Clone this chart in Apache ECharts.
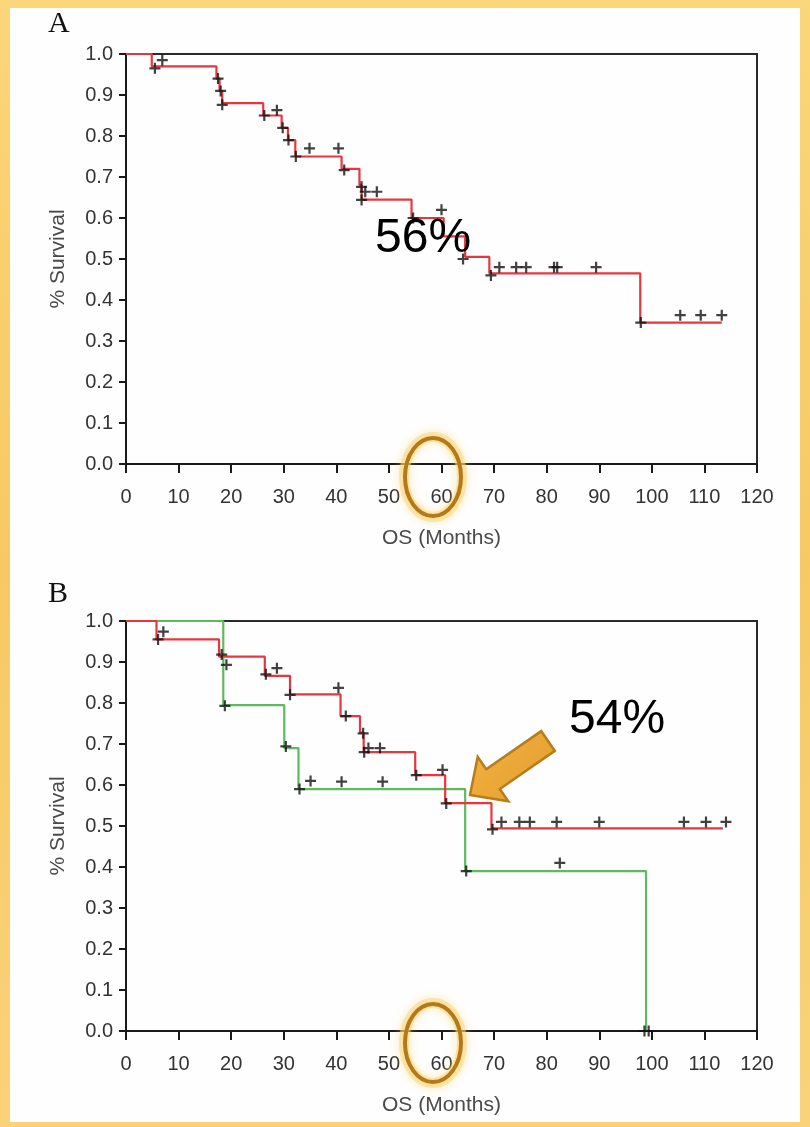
<!DOCTYPE html>
<html>
<head>
<meta charset="utf-8">
<script src="https://cdn.jsdelivr.net/npm/echarts@6/dist/echarts.min.js"></script>
<style>
  html, body { margin: 0; padding: 0; }
  body {
    width: 810px; height: 1127px; position: relative; overflow: hidden;
    background: linear-gradient(180deg, #fbd67a 0%, #f6c964 50%, #f9d27a 100%);
  }
  #panel {
    position: absolute; left: 10px; top: 8px; width: 790px; height: 1114px;
    background: #fefefe;
  }
  #chart { position: absolute; left: 0; top: 0; width: 810px; height: 1127px; }
</style>
</head>
<body>
<div id="panel"></div>
<div id="chart"></div>
<script>
// Overall survival, panel A: whole cohort (Kaplan-Meier step curve)
const aTimes = [0, 4.9, 17.2, 17.8, 18.3, 26.1, 29.6, 30.8, 32.2, 41.0, 44.4, 44.8, 54.3, 60.4, 64.5, 69.1, 97.8, 113.3];
const aSurv  = [1.0, 0.97, 0.94, 0.91, 0.88, 0.85, 0.82, 0.79, 0.75, 0.72, 0.68, 0.645, 0.60, 0.555, 0.505, 0.465, 0.345, 0.345];
// Censored observations on curve A: [months, survival]
const aCensored = [
  [5.5, 0.965], [6.9, 0.985], [17.5, 0.94], [18.0, 0.91], [18.3, 0.876], [26.3, 0.85], [28.7, 0.863],
  [29.8, 0.82], [30.9, 0.79], [32.3, 0.75], [34.9, 0.77], [40.4, 0.77], [41.5, 0.717], [44.8, 0.676],
  [44.8, 0.644], [45.5, 0.664], [47.7, 0.664], [54.6, 0.60], [60.0, 0.62], [64.1, 0.50], [69.4, 0.46],
  [71.0, 0.48], [74.2, 0.48], [76.1, 0.48], [81.4, 0.48], [82.0, 0.48], [89.4, 0.48], [97.9, 0.345],
  [105.4, 0.363], [109.3, 0.363], [113.3, 0.363]
];

// Panel B: two groups (red and green curves)
const bRedTimes = [0, 5.8, 17.7, 26.4, 31.2, 40.8, 44.5, 45.2, 55.0, 60.7, 69.5, 113.5];
const bRedSurv  = [1.0, 0.955, 0.913, 0.866, 0.821, 0.768, 0.728, 0.68, 0.624, 0.556, 0.494, 0.494];
const bRedCensored = [
  [6.1, 0.955], [7.1, 0.974], [18.2, 0.918], [19.1, 0.893], [26.6, 0.87], [28.7, 0.885], [31.2, 0.82],
  [40.4, 0.837], [41.8, 0.768], [45.1, 0.726], [45.3, 0.68], [46.1, 0.69], [48.3, 0.69], [55.2, 0.624],
  [60.2, 0.637], [60.9, 0.555], [69.7, 0.492], [71.4, 0.51], [74.8, 0.51], [76.8, 0.51], [81.9, 0.51],
  [90.0, 0.51], [106.1, 0.51], [110.3, 0.51], [114.1, 0.51]
];
const bGreenTimes = [0, 18.5, 30.1, 32.8, 64.5, 98.9];
const bGreenSurv  = [1.0, 0.795, 0.69, 0.59, 0.39, 0.0];
const bGreenCensored = [
  [18.8, 0.793], [30.4, 0.694], [33.0, 0.59], [35.1, 0.61], [41.0, 0.608], [48.8, 0.608],
  [64.7, 0.39], [82.5, 0.41], [98.6, 0.0], [99.4, 0.0]
];

// Axis ticks
const xMin = 0, xMax = 120, xStep = 10;
const yMin = 0, yMax = 1, yStep = 0.1;

const RED = '#e8363f';
const GREEN = '#5dba5f';
const PLUS = 'path://M4,0H6V4H10V6H6V10H4V6H0V4H4Z';
const FONT = '"Liberation Sans", Arial, sans-serif';

const zip = (t, s) => t.map((v, i) => [v, s[i]]);

function grid(top) {
  return {
    left: 126, width: 631, top: top, height: 410,
    show: true, borderColor: '#2a2a2a', borderWidth: 2, backgroundColor: 'transparent'
  };
}
function xAxis(idx) {
  return {
    type: 'value', gridIndex: idx, min: xMin, max: xMax, interval: xStep,
    name: 'OS (Months)', nameLocation: 'middle', nameGap: 64,
    nameTextStyle: { fontFamily: FONT, fontSize: 21, color: '#4a4a4a' },
    axisLine: { show: true, onZero: false, lineStyle: { color: '#1a1a1a', width: 2 } },
    axisTick: { show: true, length: 9, lineStyle: { color: '#1a1a1a', width: 2 } },
    axisLabel: { fontFamily: FONT, fontSize: 20, color: '#333', margin: 23 },
    splitLine: { show: false }
  };
}
function yAxis(idx) {
  return {
    type: 'value', gridIndex: idx, min: yMin, max: yMax, interval: yStep,
    name: '% Survival', nameLocation: 'middle', nameGap: 57, nameRotate: 90,
    nameTextStyle: { fontFamily: FONT, fontSize: 21, color: '#4a4a4a' },
    axisLine: { show: true, onZero: false, lineStyle: { color: '#1a1a1a', width: 2 } },
    axisTick: { show: true, length: 7, lineStyle: { color: '#1a1a1a', width: 2 } },
    axisLabel: { fontFamily: FONT, fontSize: 20, color: '#333', margin: 13,
                 formatter: v => v.toFixed(1) },
    splitLine: { show: false }
  };
}
function curve(idx, data, color) {
  return {
    type: 'line', xAxisIndex: idx, yAxisIndex: idx, step: 'end', data: data,
    symbol: 'none', lineStyle: { color: color, width: 2.2 }, z: 3, silent: true
  };
}
function marks(idx, data) {
  return {
    type: 'scatter', xAxisIndex: idx, yAxisIndex: idx, data: data,
    symbol: PLUS, symbolSize: 11, itemStyle: { color: '#111' }, z: 4, silent: true
  };
}

// Highlight ring around the 60-month tick, with a soft golden halo
function ringHalo(cy) {
  return {
    type: 'ellipse', z: 19,
    shape: { cx: 433, cy: cy, rx: 29, ry: 40 },
    style: { fill: 'none', stroke: 'rgba(252,214,120,0.55)', lineWidth: 10,
             shadowBlur: 10, shadowColor: 'rgba(252,210,110,0.8)' }
  };
}
function ring(cy) {
  return {
    type: 'ellipse', z: 20,
    shape: { cx: 433, cy: cy, rx: 28, ry: 39 },
    style: { fill: 'none', stroke: '#b47a1a', lineWidth: 4 }
  };
}
function bigLabel(text, x, y) {
  return {
    type: 'text', z: 21,
    style: { text: text, x: x, y: y, fill: '#000', font: '48px ' + FONT,
             textAlign: 'left', textVerticalAlign: 'middle',
             shadowBlur: 2, shadowOffsetX: 1.5, shadowOffsetY: 1.5, shadowColor: 'rgba(0,0,0,0.25)' }
  };
}

const chart = echarts.init(document.getElementById('chart'), null, { renderer: 'canvas' });
chart.setOption({
  animation: false,
  grid: [grid(54), grid(621)],
  xAxis: [xAxis(0), xAxis(1)],
  yAxis: [yAxis(0), yAxis(1)],
  series: [
    curve(0, zip(aTimes, aSurv), RED),
    marks(0, aCensored),
    curve(1, zip(bGreenTimes, bGreenSurv), GREEN),
    curve(1, zip(bRedTimes, bRedSurv), RED),
    marks(1, bRedCensored),
    marks(1, bGreenCensored)
  ],
  graphic: [
    { type: 'text', z: 10, style: { text: 'A', x: 48, y: 24, font: '30px "Liberation Serif", serif',
      fill: '#111', textVerticalAlign: 'middle' } },
    { type: 'text', z: 10, style: { text: 'B', x: 48, y: 594, font: '30px "Liberation Serif", serif',
      fill: '#111', textVerticalAlign: 'middle' } },
    bigLabel('56%', 375, 239),
    bigLabel('54%', 569, 720),
    ringHalo(477),
    ring(477),
    ringHalo(1043),
    ring(1043),
    {
      type: 'polygon', z: 22,
      shape: { points: [[470, 795], [508.3, 801.3], [499.8, 789], [554.8, 750.9],
                        [541.2, 731.1], [486.2, 769.2], [477.7, 756.9]] },
      style: {
        fill: new echarts.graphic.LinearGradient(0, 0, 1, 1, [
          { offset: 0, color: '#f3b443' }, { offset: 1, color: '#e39b2c' }
        ]),
        stroke: '#b77d1d', lineWidth: 2.5, lineJoin: 'miter'
      }
    }
  ]
});
</script>
</body>
</html>
